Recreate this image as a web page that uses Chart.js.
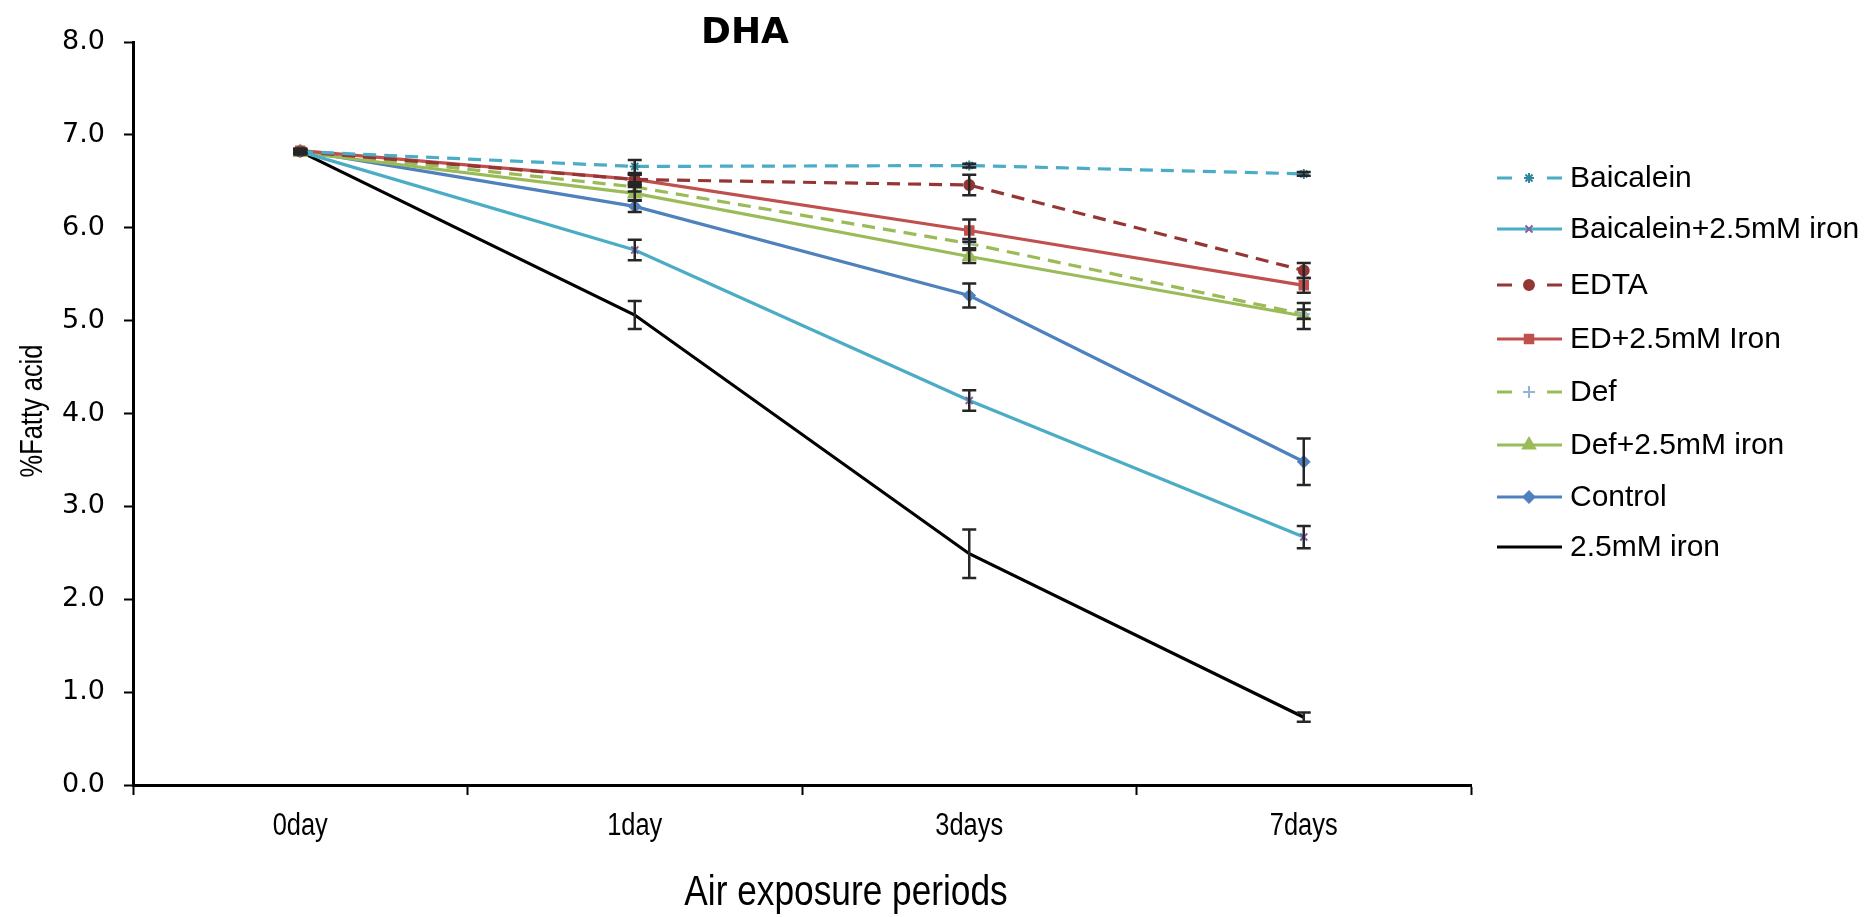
<!DOCTYPE html>
<html>
<head>
<meta charset="utf-8">
<script src="https://cdn.jsdelivr.net/npm/chart.js@4"></script>
<style>
  html, body { margin: 0; padding: 0; background: #fff; }
  #wrap { width: 1868px; height: 917px; }
</style>
</head>
<body>
<div id="wrap"><canvas id="dhaChart" width="1868" height="917"></canvas></div>
<script>
// categories and tick labels
const periods = ['0day', '1day', '3days', '7days'];
const yTicks = [0, 1, 2, 3, 4, 5, 6, 7, 8];

// series values (%) and their error bars
const baicalein = [6.82, 6.66, 6.67, 6.58];
const baicaleinErr = [0.02, 0.07, 0.02, 0.02];
const baicaleinIron = [6.82, 5.76, 4.14, 2.67];
const baicaleinIronErr = [0.02, 0.11, 0.11, 0.12];
const edta = [6.82, 6.52, 6.46, 5.54];
const edtaErr = [0.02, 0.05, 0.11, 0.08];
const edIron = [6.83, 6.52, 5.97, 5.38];
const edIronErr = [0.02, 0.06, 0.12, 0.08];
const def = [6.82, 6.44, 5.83, 5.07];
const defErr = [0.02, 0.05, 0.05, 0.05];
const defIron = [6.81, 6.37, 5.69, 5.05];
const defIronErr = [0.02, 0.07, 0.07, 0.14];
const control = [6.83, 6.23, 5.27, 3.48];
const controlErr = [0.02, 0.06, 0.13, 0.25];
const iron = [6.82, 5.06, 2.49, 0.73];
const ironErr = [0.02, 0.15, 0.26, 0.05];

const narrowFont = '"Liberation Sans", Arial, sans-serif';

const series = (label, data, errors, color, opts) => Object.assign({
  label, data, errors,
  borderColor: color,
  backgroundColor: color,
  borderWidth: 3.2,
  pointRadius: 5,
  pointBorderWidth: 2,
  tension: 0
}, opts);

const datasets = [
  series('Baicalein', baicalein, baicaleinErr, '#4BACC6', { borderDash: [13, 8], pointStyle: 'star', pointBorderColor: '#31859C' }),
  series('Baicalein+2.5mM iron', baicaleinIron, baicaleinIronErr, '#4BACC6', { pointStyle: 'crossRot', pointBorderColor: '#8064A2', pointBackgroundColor: '#8064A2' }),
  series('EDTA', edta, edtaErr, '#943634', { borderDash: [13, 8], pointStyle: 'circle', pointRadius: 5 }),
  series('ED+2.5mM Iron', edIron, edIronErr, '#C0504D', { pointStyle: 'rect', pointRadius: 6 }),
  series('Def', def, defErr, '#9BBB59', { borderDash: [13, 8], pointStyle: 'cross', pointBorderColor: '#95B3D7', pointBackgroundColor: '#95B3D7', pointRadius: 6 }),
  series('Def+2.5mM iron', defIron, defIronErr, '#9BBB59', { pointStyle: 'triangle', pointRadius: 7 }),
  series('Control', control, controlErr, '#4F81BD', { pointStyle: 'rectRot', pointRadius: 5.5 }),
  series('2.5mM iron', iron, ironErr, '#000000', { pointRadius: 0, pointHoverRadius: 0 })
];

const errorBars = {
  id: 'errorBars',
  afterDatasetsDraw(chart) {
    const ctx = chart.ctx;
    const yScale = chart.scales.y;
    ctx.save();
    ctx.strokeStyle = '#262626';
    ctx.lineWidth = 2.5;
    chart.data.datasets.forEach((ds, i) => {
      const meta = chart.getDatasetMeta(i);
      meta.data.forEach((pt, j) => {
        const e = ds.errors[j];
        const yTop = yScale.getPixelForValue(ds.data[j] + e);
        const yBot = yScale.getPixelForValue(ds.data[j] - e);
        ctx.beginPath();
        ctx.moveTo(pt.x, yTop); ctx.lineTo(pt.x, yBot);
        ctx.moveTo(pt.x - 7, yTop); ctx.lineTo(pt.x + 7, yTop);
        ctx.moveTo(pt.x - 7, yBot); ctx.lineTo(pt.x + 7, yBot);
        ctx.stroke();
      });
    });
    ctx.restore();
  }
};

// condensed text helper (the original uses a narrow face)
const narrowText = (ctx, text, x, y, squeeze) => {
  ctx.save();
  ctx.translate(x, y);
  ctx.scale(squeeze, 1);
  ctx.fillText(text, 0, 0);
  ctx.restore();
};

// title, axis titles, category labels and the legend at the right
const decorations = {
  id: 'decorations',
  afterDraw(chart) {
    const ctx = chart.ctx;
    const xScale = chart.scales.x;
    ctx.save();
    ctx.fillStyle = '#000';
    ctx.textAlign = 'center';
    ctx.textBaseline = 'middle';
    ctx.font = 'bold 36px "DejaVu Sans", sans-serif';
    ctx.fillText('DHA', 745, 34);

    ctx.font = '31px ' + narrowFont;
    periods.forEach((p, i) => narrowText(ctx, p, xScale.getPixelForValue(i), 826, 0.82));

    ctx.font = '43px ' + narrowFont;
    narrowText(ctx, 'Air exposure periods', 846, 893, 0.82);

    ctx.save();
    ctx.translate(33, 411);
    ctx.rotate(-Math.PI / 2);
    ctx.font = '31px ' + narrowFont;
    ctx.scale(0.82, 1);
    ctx.fillText('%Fatty acid', 0, 0);
    ctx.restore();

    const rowY = [178, 229, 285, 339, 392, 445, 497, 547];
    ctx.textAlign = 'left';
    ctx.font = '30px "Liberation Sans", Arial, sans-serif';
    chart.data.datasets.forEach((ds, i) => {
      const y = rowY[i];
      ctx.save();
      ctx.strokeStyle = ds.borderColor;
      ctx.lineWidth = 3.2;
      ctx.beginPath();
      if (ds.borderDash) {
        ctx.moveTo(1497, y); ctx.lineTo(1512, y);
        ctx.moveTo(1547, y); ctx.lineTo(1562, y);
      } else {
        ctx.moveTo(1497, y); ctx.lineTo(1562, y);
      }
      ctx.stroke();
      ctx.restore();
      if (ds.pointRadius > 0 && Chart.helpers && Chart.helpers.drawPoint) {
        ctx.save();
        ctx.strokeStyle = ds.pointBorderColor || ds.borderColor;
        ctx.fillStyle = ds.pointBackgroundColor || ds.backgroundColor;
        ctx.lineWidth = 2;
        Chart.helpers.drawPoint(ctx, { pointStyle: ds.pointStyle, radius: ds.pointRadius, rotation: 0, borderWidth: 2 }, 1529, y);
        ctx.restore();
      }
      ctx.fillStyle = '#000';
      ctx.fillText(ds.label, 1570, y + 1);
    });
    ctx.restore();
  }
};

new Chart(document.getElementById('dhaChart'), {
  type: 'line',
  data: { labels: periods, datasets },
  options: {
    responsive: false,
    animation: false,
    layout: { padding: { top: 42, right: 397, bottom: 0, left: 0 } },
    plugins: {
      legend: { display: false },
      title: { display: false },
      tooltip: { enabled: false }
    },
    scales: {
      x: {
        offset: true,
        grid: { drawOnChartArea: false, offset: true, tickLength: 10, tickWidth: 2, tickColor: '#000' },
        border: { color: '#000', width: 3 },
        ticks: { display: false },
        afterFit: (scale) => { scale.height = 132; }
      },
      y: {
        min: 0,
        max: 8,
        afterBuildTicks: (scale) => { scale.ticks = yTicks.map(v => ({ value: v })); },
        grid: { drawOnChartArea: false, tickLength: 9, tickWidth: 2, tickColor: '#000' },
        border: { color: '#000', width: 3 },
        ticks: {
          color: '#000',
          padding: 19,
          font: { family: '"DejaVu Sans", sans-serif', size: 27 },
          callback: (v) => Number(v).toFixed(1)
        },
        afterFit: (scale) => { scale.width = 133; }
      }
    }
  },
  plugins: [errorBars, decorations]
});
</script>
</body>
</html>
